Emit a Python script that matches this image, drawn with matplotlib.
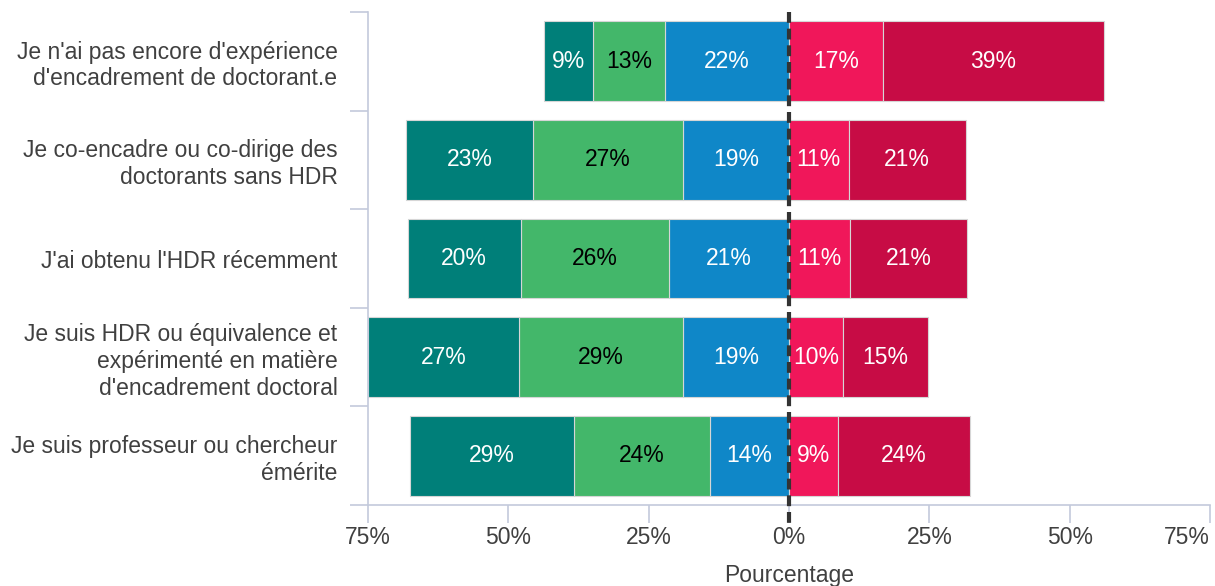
import matplotlib
matplotlib.use("Agg")
import matplotlib.pyplot as plt
from matplotlib.ticker import FixedLocator
import numpy as np

plt.rcParams["font.family"] = ["Liberation Sans", "DejaVu Sans"]

# --- data -------------------------------------------------------------
categories = [
    "Je n'ai pas encore d'expérience\nd'encadrement de doctorant.e",
    "Je co-encadre ou co-dirige des\ndoctorants sans HDR",
    "J'ai obtenu l'HDR récemment",
    "Je suis HDR ou équivalence et\nexpérimenté en matière\nd'encadrement doctoral",
    "Je suis professeur ou chercheur\némérite",
]

# left side (negative direction), from the centre outwards
blue_vals  = [22.1, 18.9, 21.4, 18.9, 14.1]
green_vals = [12.8, 26.7, 26.4, 29.2, 24.2]
teal_vals  = [8.7, 22.6, 20.1, 26.9, 29.2]
# right side, from the centre outwards
pink_vals    = [16.7, 10.6, 10.9, 9.6, 8.7]
crimson_vals = [39.4, 20.9, 20.8, 15.2, 23.6]

x_ticks = [-75, -50, -25, 0, 25, 50, 75]

# --- style ------------------------------------------------------------
TEAL, GREEN, BLUE = "#007f79", "#43b76a", "#0f87c8"
PINK, CRIMSON = "#f0175a", "#c70c45"
AXIS_COL = "#c3cadb"
TEXT_COL = "#404040"
FS = 16.5

fig = plt.figure(figsize=(12.15, 5.86), dpi=100)
ax = fig.add_axes([368 / 1215, 1 - 505 / 586, 842 / 1215, 493 / 586])

y = np.arange(len(categories))
blue = np.array(blue_vals)
green = np.array(green_vals)
teal = np.array(teal_vals)
pink = np.array(pink_vals)
crimson = np.array(crimson_vals)

segments = [
    (-blue, 0, BLUE, "white", blue),
    (-green, -blue, GREEN, "black", green),
    (-teal, -blue - green, TEAL, "white", teal),
    (pink, 0, PINK, "white", pink),
    (crimson, pink, CRIMSON, "white", crimson),
]

h = 0.81
for width, left, col, tcol, vals in segments:
    bars = ax.barh(y, width, left=left, height=h, color=col,
                   edgecolor="#d6d6d6", linewidth=0.8, zorder=2)
    for b, v in zip(bars, vals):
        cx = b.get_x() + b.get_width() / 2
        ax.text(cx, b.get_y() + b.get_height() / 2, f"{round(v)}%",
                ha="center", va="center", color=tcol, fontsize=FS, zorder=4)

# dashed zero line
ax.plot([0, 0], [1.0, -0.036], transform=ax.get_xaxis_transform(),
        color="#333333", lw=3, ls=(0, (2.6, 1.4)), clip_on=False, zorder=5)

ax.set_xlim(-75, 75)
ax.set_ylim(len(categories) - 0.5, -0.5)

ax.set_xticks(x_ticks)
ax.set_xticklabels([f"{abs(t)}%" for t in x_ticks])
ax.get_xticklabels()[-1].set_horizontalalignment("right")

ax.set_yticks(y)
ax.set_yticklabels(categories, linespacing=1.2)
ax.yaxis.set_minor_locator(FixedLocator(np.arange(-0.5, len(categories), 1)))
ax.tick_params(axis="y", which="major", length=0, pad=22,
               labelsize=FS, labelcolor=TEXT_COL)
ax.tick_params(axis="y", which="minor", length=13, width=1.2, color=AXIS_COL)
ax.tick_params(axis="x", length=13, width=1.2, color=AXIS_COL, pad=2,
               labelsize=FS, labelcolor=TEXT_COL)

for side in ["top", "right"]:
    ax.spines[side].set_visible(False)
for side in ["left", "bottom"]:
    ax.spines[side].set_color(AXIS_COL)
    ax.spines[side].set_linewidth(1.2)

ax.set_xlabel("Pourcentage", fontsize=FS, color=TEXT_COL, labelpad=11)

fig.savefig("out.png", dpi=100)
